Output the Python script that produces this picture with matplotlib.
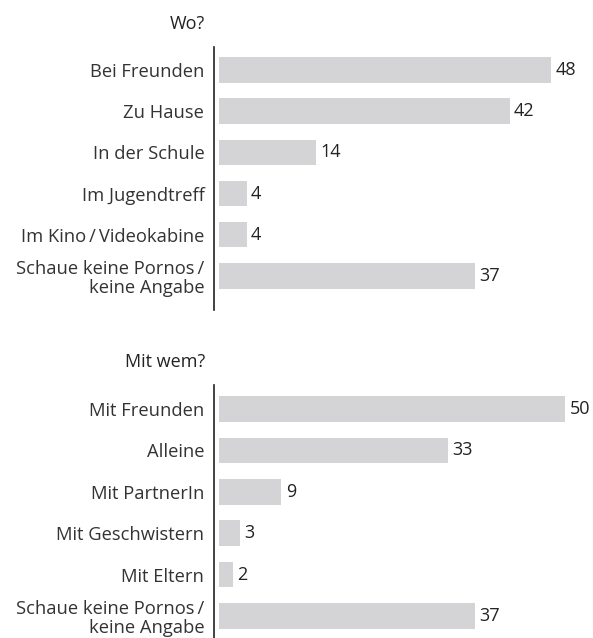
import matplotlib.pyplot as plt

plt.rcParams['font.family'] = ['Open Sans', 'DejaVu Sans']

wo_labels = ["Bei Freunden", "Zu Hause", "In der Schule", "Im Jugendtreff",
             "Im Kino\u2009/\u2009Videokabine", "Schaue keine Pornos\u2009/\nkeine Angabe"]
wo_values = [48, 42, 14, 4, 4, 37]

wem_labels = ["Mit Freunden", "Alleine", "Mit PartnerIn", "Mit Geschwistern",
              "Mit Eltern", "Schaue keine Pornos\u2009/\nkeine Angabe"]
wem_values = [50, 33, 9, 3, 2, 37]

W, H = 593, 638
fig = plt.figure(figsize=(W / 100, H / 100), dpi=100)

bar_color = "#d4d4d6"
text_color = "#333333"


def panel(top, bottom, labels, values, title, ylim):
    ax = fig.add_axes([214 / W, 1 - bottom / H, (W - 214) / W, (bottom - top) / H])
    y = list(range(len(values)))
    ax.barh(y, values, height=0.62, left=0, color=bar_color)
    ax.set_xlim(-0.75, 54.0)
    ax.set_ylim(ylim[1], ylim[0])
    for s in ["top", "right", "bottom"]:
        ax.spines[s].set_visible(False)
    ax.spines["left"].set_position(("data", -0.75))
    ax.spines["left"].set_linewidth(1.2)
    ax.spines["left"].set_color("#222222")
    ax.set_xticks([])
    ax.set_yticks(y)
    ax.set_yticklabels(labels, fontsize=13.2, color=text_color, linespacing=1.1)
    ax.tick_params(axis="y", length=0, pad=7)
    for yi, v in zip(y, values):
        ax.text(v + 0.6, yi, str(v), va="center", ha="left", fontsize=13,
                fontweight="medium", color="#222222")
    ax.text(-0.75 - 1.3, ylim[0] - 0.55, title, ha="right", va="center",
            fontsize=13, fontweight="medium", color="#222222", clip_on=False)
    return ax


panel(47, 310, wo_labels, wo_values, "Wo?", (-0.56, 5.83))
panel(385, 638, wem_labels, wem_values, "Mit wem?", (-0.58, 5.53))

fig.savefig("out.png", dpi=100)
